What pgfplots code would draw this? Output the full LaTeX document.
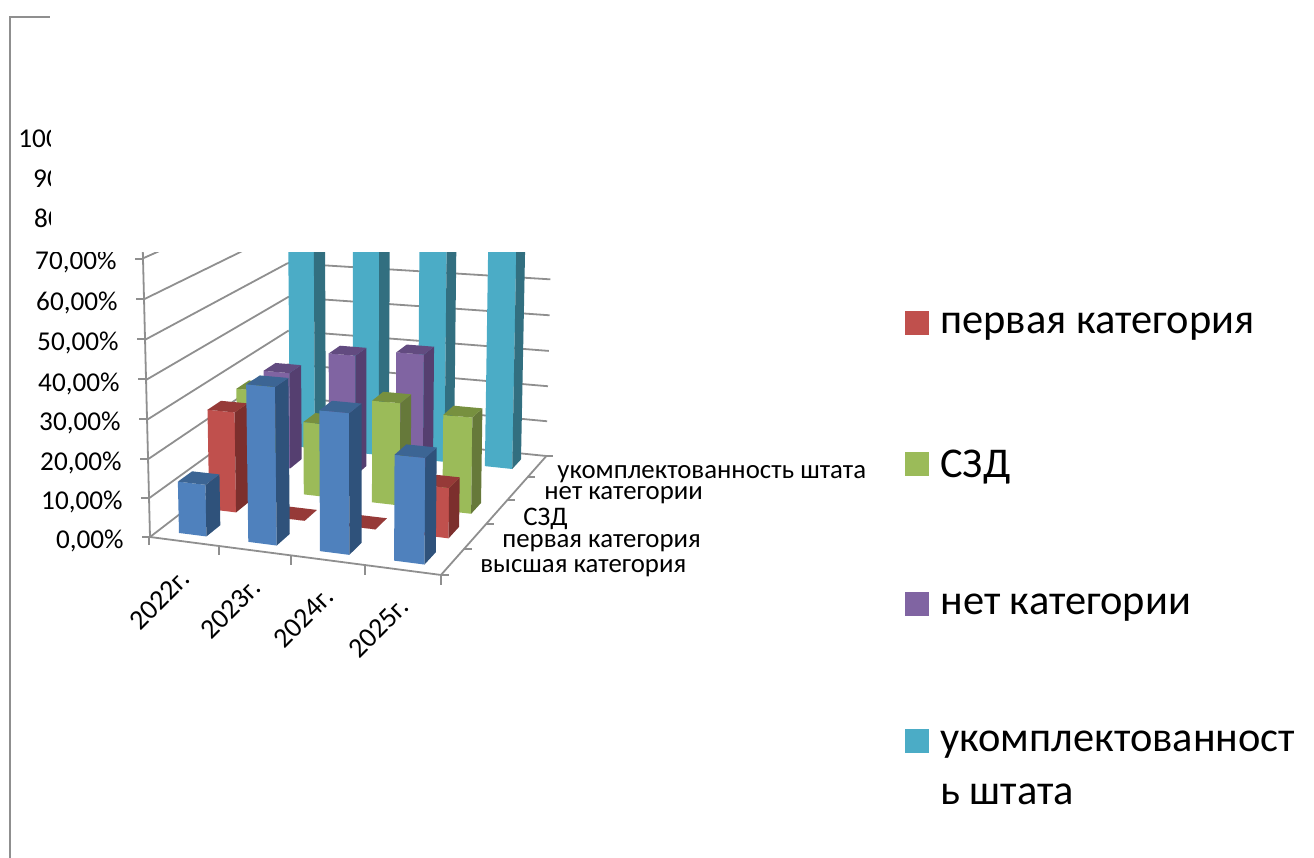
\documentclass[border=0pt]{standalone}
\usepackage{pgfplots}
\usepackage{pgfplotstable}
\usepackage{fontspec}
\setmainfont{Carlito}
\pgfplotsset{compat=1.18}
\definecolor{blF}{HTML}{4F81BD}\definecolor{blS}{HTML}{2F527B}\definecolor{blT}{HTML}{3C6594}
\definecolor{reF}{HTML}{C0504D}\definecolor{reS}{HTML}{7C2F2D}\definecolor{reT}{HTML}{963A38}
\definecolor{grF}{HTML}{9BBB59}\definecolor{grS}{HTML}{66793A}\definecolor{grT}{HTML}{77903F}
\definecolor{puF}{HTML}{8064A2}\definecolor{puS}{HTML}{553F70}\definecolor{puT}{HTML}{624B80}
\definecolor{cyF}{HTML}{4BACC6}\definecolor{cyS}{HTML}{326F80}\definecolor{cyT}{HTML}{3A8CA3}
\definecolor{gridc}{HTML}{8F8F8F}
% values in per cent: one row per year, one column per series
\pgfplotstableread{
year vys perv szd net uk
2022 13.3 26.5 27 27 100
2023 39.7 0 19.7 33.4 100
2024 35 0 27.2 35.2 100
2025 26 12.8 25.2 nan 100
}\datatable
% projection (category u, series v, value w/10) -> picture pixels
\newcommand\SetP[4]{%
  \pgfmathsetmacro\tS{(#2)/4}\pgfmathsetmacro\tT{(#3)/5}\pgfmathsetmacro\tW{#4}%
  \pgfmathsetmacro\tD{-0.0661*\tS+0.1590*\tT-0.00461*\tW+1}%
  \expandafter\pgfmathsetmacro\csname X#1\endcsname{(261.85*\tS+183.79*\tT-1.659*\tW+150+1.5*\tT)/\tD}%
  \expandafter\pgfmathsetmacro\csname Y#1\endcsname{-(0*\tS-38.63*\tT-(41-1.1*\tT)*\tW+537)/\tD}%
}
\newcommand\Seg[6]{% line between two model points
  \SetP{A}{#1}{#2}{#3}\SetP{B}{#4}{#5}{#6}%
  \addplot[gridc,line width=0.9pt,no marks,forget plot] coordinates {(\XA,\YA) (\XB,\YB)};%
}
\newcommand\Tk[4]{\addplot[gridc,line width=0.9pt,no marks,forget plot] coordinates {(#1,-#2) (#3,-#4)};}
\newcommand\Face[5]{% colour and four points already set
  \addplot[fill=#1,draw=none,no marks,forget plot] coordinates {(\csname X#2\endcsname,\csname Y#2\endcsname) (\csname X#3\endcsname,\csname Y#3\endcsname) (\csname X#4\endcsname,\csname Y#4\endcsname) (\csname X#5\endcsname,\csname Y#5\endcsname) (\csname X#2\endcsname,\csname Y#2\endcsname)};%
}
\newcommand\OneBar[6]{%
  \pgfplotstablegetelem{#1}{#3}\of\datatable
  \pgfmathsetmacro\val{\pgfplotsretval/10}%
  \pgfmathsetmacro\uo{#1+0.3}\pgfmathsetmacro\ui{#1+0.7}%
  \pgfmathsetmacro\vo{#2+0.27}\pgfmathsetmacro\vi{#2+0.73}%
  \SetP{a}{\uo}{\vo}{0}\SetP{b}{\ui}{\vo}{0}\SetP{c}{\ui}{\vi}{0}%
  \SetP{d}{\uo}{\vo}{\val}\SetP{e}{\ui}{\vo}{\val}\SetP{f}{\ui}{\vi}{\val}\SetP{g}{\uo}{\vi}{\val}%
  \Face{#4}{a}{b}{e}{d}\Face{#5}{b}{c}{f}{e}\Face{#6}{d}{e}{f}{g}%
}
\newcommand\BarRow[5]{%
  \OneBar{0}{#1}{#2}{#3}{#4}{#5}\OneBar{1}{#1}{#2}{#3}{#4}{#5}%
  \OneBar{2}{#1}{#2}{#3}{#4}{#5}\OneBar{3}{#1}{#2}{#3}{#4}{#5}%
}
\newcommand\YL[3]{\node[anchor=east,font=\fontsize{13.6pt}{15pt}\selectfont,inner sep=0pt] at (axis cs:{124-#1},-#2) {#3};}
\newcommand\XL[3]{\node[rotate=45,font=\fontsize{14pt}{15pt}\selectfont,inner sep=0pt] at (axis cs:#1,-#2) {#3};}
\newcommand\SL[3]{\node[anchor=west,font=\fontsize{13.4pt}{15pt}\selectfont,inner sep=0pt] at (axis cs:#1,-#2) {#3};}
\begin{document}
\begin{tikzpicture}
\path[use as bounding box] (0,0) rectangle (657pt,429pt);
\begin{axis}[
  at={(0,0)},anchor=south west,scale only axis,width=657pt,height=429pt,
  xmin=0,xmax=1314,ymin=-858,ymax=0,hide axis,clip=false,
  legend style={at={(0.6887,0.64)},anchor=north west,draw=none,fill=none,inner sep=0pt,
    font=\fontsize{21.2pt}{25pt}\selectfont,row sep=52.7pt},
  legend cell align=left,
  legend image code/.code={\path[#1,draw=none] (0pt,-5pt) rectangle (12pt,7pt);\path[draw=none,fill=none] (0pt,0pt) -- (15.5pt,0pt);},
]
% left wall, back wall
\Seg{0}{0}{1}{0}{5}{1}\Seg{0}{0}{2}{0}{5}{2}\Seg{0}{0}{3}{0}{5}{3}\Seg{0}{0}{4}{0}{5}{4}
\Seg{0}{0}{5}{0}{5}{5}\Seg{0}{0}{6}{0}{5}{6}\Seg{0}{0}{7}{0}{5}{7}\Seg{0}{0}{8}{0}{5}{8}
\Seg{0}{5}{1}{4}{5}{1}\Seg{0}{5}{2}{4}{5}{2}\Seg{0}{5}{3}{4}{5}{3}\Seg{0}{5}{4}{4}{5}{4}
\Seg{0}{5}{5}{4}{5}{5}\Seg{0}{5}{6}{4}{5}{6}\Seg{0}{5}{7}{4}{5}{7}\Seg{0}{5}{8}{4}{5}{8}
% floor and axes
\Seg{0}{0}{0}{0}{5}{0}\Seg{0}{5}{0}{4}{5}{0}\Seg{0}{0}{0}{4}{0}{0}\Seg{4}{0}{0}{4}{5}{0}\Seg{0}{0}{0}{0}{0}{8}
% ticks
\Tk{142}{537}{150}{537}\Tk{141}{498}{149}{498}\Tk{140}{459}{148}{459}\Tk{139}{419}{147}{419}
\Tk{138}{379}{146}{379}\Tk{137}{339}{145}{339}\Tk{136}{299}{144}{299}\Tk{135}{259}{143}{259}
\Tk{149}{537}{149}{545}\Tk{219}{547}{219}{555}\Tk{291}{556}{291}{565}\Tk{365}{566}{365}{575}\Tk{441}{575}{441}{585}
\Tk{441}{575}{449}{575}\Tk{464}{549}{472}{549}\Tk{486}{524}{494}{524}\Tk{507}{500}{515}{500}\Tk{527}{477}{535}{477}\Tk{545}{456}{553}{456}
% bars, back row first
\BarRow{4}{uk}{cyF}{cyS}{cyT}
\OneBar{0}{3}{net}{puF}{puS}{puT}\OneBar{1}{3}{net}{puF}{puS}{puT}\OneBar{2}{3}{net}{puF}{puS}{puT}
\BarRow{2}{szd}{grF}{grS}{grT}
\BarRow{1}{perv}{reF}{reS}{reT}
\BarRow{0}{vys}{blF}{blS}{blT}
% tick labels
\YL{0}{540.5}{0,00\%}\YL{1}{502}{10,00\%}\YL{2}{462.5}{20,00\%}\YL{3}{423}{30,00\%}\YL{4}{383.5}{40,00\%}\YL{5}{343}{50,00\%}
\YL{6}{303}{60,00\%}\YL{7}{262}{70,00\%}\YL{8}{220}{80,00\%}\YL{9}{180}{90,00\%}\YL{10}{140}{100,00\%}
\XL{160}{600}{2022г.}\XL{231}{609}{2023г.}\XL{304}{618}{2024г.}\XL{379}{628}{2025г.}
\SL{480}{568}{высшая категория}\SL{502}{543}{первая категория}\SL{523}{519}{СЗД}
\SL{544}{495}{нет категории}\SL{557}{474}{укомплектованность штата}
% legend
\addlegendimage{fill=reF}\addlegendentry{первая категория}
\addlegendimage{fill=grF}\addlegendentry{СЗД}
\addlegendimage{fill=puF}\addlegendentry{нет категории}
\addlegendimage{fill=cyF}\addlegendentry{\parbox[t]{176pt}{\baselineskip=26.5pt укомплектованност\\ь штата}}
\end{axis}
% the reference's cropped region and frame
\fill[white] (25.5pt,0.5*858pt-126pt) rectangle (657pt,429pt);
\draw[gridc,line width=0.9pt] (5pt,0pt) -- (5pt,420.5pt) -- (25pt,420.5pt);
\end{tikzpicture}
\end{document}
